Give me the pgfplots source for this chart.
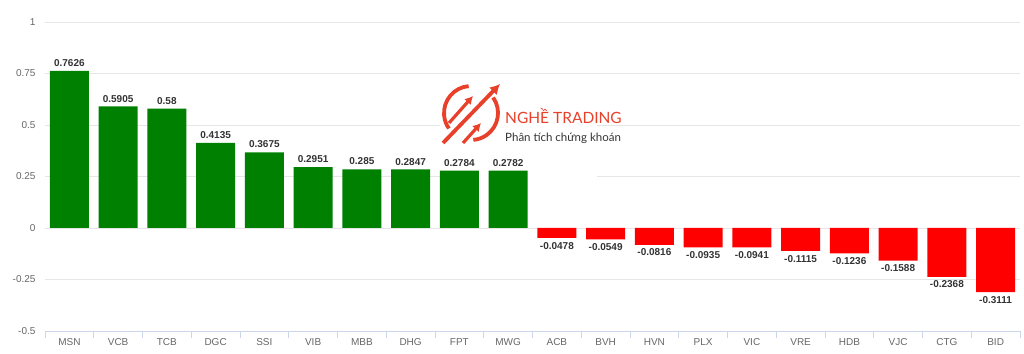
\documentclass[border=0pt]{standalone}
\usepackage{fontspec}
\setmainfont{Liberation Sans}
\newfontfamily\logofont{Lato}
\usepackage{pgfplots}
\usepackage{pgfplotstable}
\usetikzlibrary{arrows.meta}
\pgfplotsset{compat=1.18}
\definecolor{gridc}{HTML}{E6E6E6}
\definecolor{axisc}{HTML}{CCD6EB}
\definecolor{tickc}{HTML}{666666}
\definecolor{labc}{HTML}{333333}
\definecolor{posc}{HTML}{008000}
\definecolor{negc}{HTML}{FF0000}
\definecolor{logoc}{HTML}{E8402A}

\pgfplotstableread{
x y lab
0 0.7626 0.7626
1 0.5905 0.5905
2 0.58 0.58
3 0.4135 0.4135
4 0.3675 0.3675
5 0.2951 0.2951
6 0.285 0.285
7 0.2847 0.2847
8 0.2784 0.2784
9 0.2782 0.2782
}\pos
\pgfplotstableread{
x y lab
10 -0.0478 -0.0478
11 -0.0549 -0.0549
12 -0.0816 -0.0816
13 -0.0935 -0.0935
14 -0.0941 -0.0941
15 -0.1115 -0.1115
16 -0.1236 -0.1236
17 -0.1588 -0.1588
18 -0.2368 -0.2368
19 -0.3111 -0.3111
}\neg

\begin{document}
\begin{tikzpicture}
\path[use as bounding box] (-45pt,-22pt) rectangle (979pt,331pt);
\begin{axis}[
  at={(0,0)}, anchor=south west,
  scale only axis,
  width=975pt, height=309pt,
  xmin=-0.5, xmax=19.5, ymin=-0.5, ymax=1,
  axis x line*=bottom, axis y line*=left,
  x axis line style={draw=axisc, line width=0.8pt},
  y axis line style={draw=none},
  ytick={-0.5,-0.25,0,0.25,0.5,0.75,1},
  yticklabels={-0.5,-0.25,0,0.25,0.5,0.75,1},
  ymajorgrids, grid style={draw=gridc, line width=0.8pt},
  xtick={0,...,19},
  xticklabels={MSN,VCB,TCB,DGC,SSI,VIB,MBB,DHG,FPT,MWG,ACB,BVH,HVN,PLX,VIC,VRE,HDB,VJC,CTG,BID},
  major tick length=0pt,
  extra x ticks={-0.5,0.5,...,19.5},
  extra x tick labels={},
  extra x tick style={grid=none, major tick length=7pt, tick align=outside,
     tick style={draw=axisc, line width=0.8pt}},
  ticklabel style={font=\fontsize{10}{12}\selectfont, text=tickc},
  yticklabel style={xshift=-6pt},
  xticklabel style={yshift=-4pt},
  ybar, bar width=0.8, bar shift=0pt,
  point meta=explicit symbolic,
  nodes near coords,
  every node near coord/.append style={font=\bfseries\fontsize{10}{12}\selectfont, text=labc, inner sep=2pt, yshift=2pt},
]
\fill[white] (axis cs:7.6,0.233) rectangle (axis cs:10.82,0.728);
\addplot[draw=none, fill=posc] table[x=x,y=y,meta=lab] {\pos};
\addplot[draw=none, fill=negc, nodes near coords align=below,
  every node near coord/.append style={yshift=-4pt}] table[x=x,y=y,meta=lab] {\neg};
\end{axis}
% watermark logo
\begin{scope}[shift={(426pt,218pt)}, logoc, line width=3.8pt]
  \draw (95:27pt) arc (95:215:27pt);
  \draw (35:27pt) arc (35:-85:27pt);
  \draw[line width=3.8pt, -{Latex[length=10pt,width=11pt]}] (-28pt,-30pt) -- (29pt,29pt);
  \draw[line width=3.2pt, -{Latex[length=8pt,width=9pt]}] (-22pt,-10pt) -- (2pt,17pt);
  \draw[line width=3.2pt, -{Latex[length=8pt,width=9pt]}] (-8pt,-30pt) -- (10pt,-10pt);
\end{scope}
\node[anchor=base west, inner sep=0pt, text=logoc, font=\logofont\fontsize{15.5}{18}\selectfont] at (460pt,207pt) {NGHỀ TRADING};
\node[anchor=base west, inner sep=0pt, text=labc, font=\logofont\fontsize{11.5}{14}\selectfont] at (460pt,189pt) {Phân tích chứng khoán};
\end{tikzpicture}
\end{document}
